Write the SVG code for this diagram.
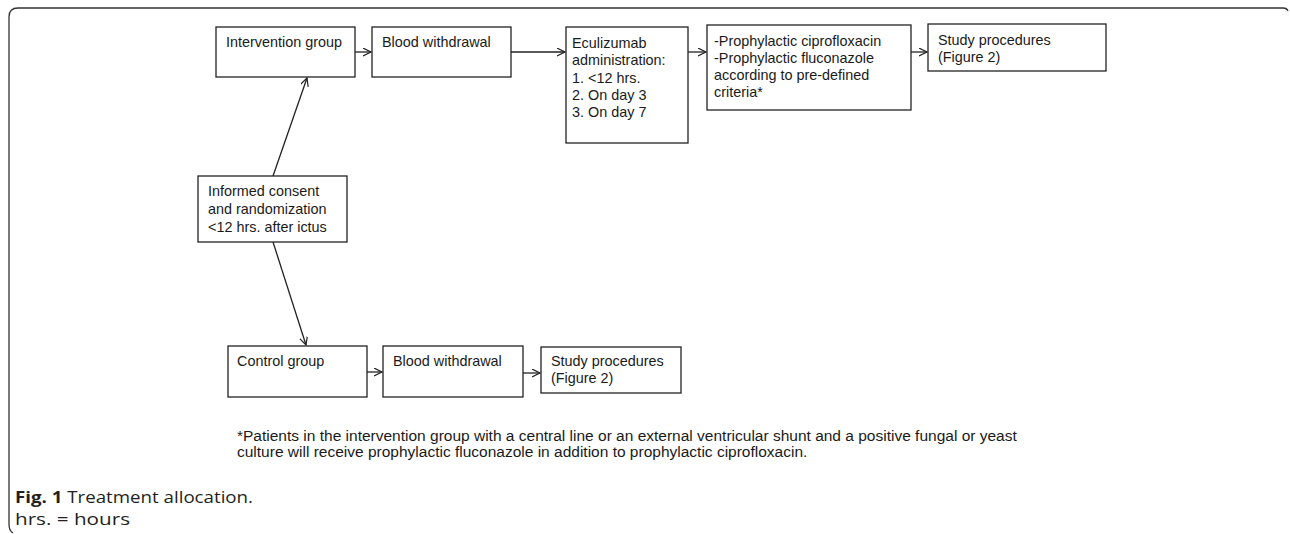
<svg xmlns="http://www.w3.org/2000/svg" width="1290" height="534" viewBox="0 0 1290 534">
<defs>
<marker id="arr" markerWidth="10" markerHeight="10" refX="8" refY="4" orient="auto" markerUnits="userSpaceOnUse">
<path d="M0,0 L8,4 L0,8" fill="none" stroke="#222" stroke-width="1.2"/>
</marker>
<style>
.box{fill:#fff;stroke:#222;stroke-width:1.3}
.t{font-family:"Liberation Sans",Arial,sans-serif;font-size:14.4px;fill:#1a1a1a}
.fn{font-family:"Liberation Sans",Arial,sans-serif;font-size:15.5px;fill:#1a1a1a}
.cap{font-family:"Open Sans","Noto Sans",sans-serif;font-size:16px;fill:#231f20}
.c{stroke:#222;stroke-width:1.3;fill:none;marker-end:url(#arr)}
</style>
</defs>
<rect width="1290" height="534" fill="#fff"/>
<path d="M1288,11 Q1287,8 1283,8 L18,8 Q9,8 9,17 L9,524 Q9,531 13,533" fill="none" stroke="#333" stroke-width="1.3"/>
<g id="connectors">
<line class="c" x1="355" y1="52" x2="371" y2="52"/>
<line class="c" x1="511" y1="52" x2="565" y2="52"/>
<line class="c" x1="688" y1="52" x2="706" y2="52"/>
<line class="c" x1="911" y1="52" x2="927" y2="52"/>
<line class="c" x1="273" y1="176" x2="307" y2="78"/>
<line class="c" x1="273" y1="242" x2="306" y2="345"/>
<line class="c" x1="367" y1="372" x2="382" y2="372"/>
<line class="c" x1="523" y1="373" x2="540" y2="373"/>
</g>
<g id="intervention">
<rect class="box" x="216" y="27" width="139" height="50"/>
<text class="t" x="226" y="47">Intervention group</text>
</g>
<g id="blood1">
<rect class="box" x="372" y="27" width="139" height="50"/>
<text class="t" x="382" y="47">Blood withdrawal</text>
</g>
<g id="eculizumab">
<rect class="box" x="566" y="27" width="122" height="116"/>
<text class="t" x="572" y="48">Eculizumab</text>
<text class="t" x="572" y="65.3">administration:</text>
<text class="t" x="572" y="82.6">1. &lt;12 hrs.</text>
<text class="t" x="572" y="99.9">2. On day 3</text>
<text class="t" x="572" y="117.2">3. On day 7</text>
</g>
<g id="prophylactic">
<rect class="box" x="707" y="25" width="204" height="85"/>
<text class="t" x="714" y="46">-Prophylactic ciprofloxacin</text>
<text class="t" x="714" y="63">-Prophylactic fluconazole</text>
<text class="t" x="714" y="80">according to pre-defined</text>
<text class="t" x="714" y="97">criteria*</text>
</g>
<g id="study1">
<rect class="box" x="928" y="24" width="178" height="47"/>
<text class="t" x="938" y="45">Study procedures</text>
<text class="t" x="938" y="62">(Figure 2)</text>
</g>
<g id="consent">
<rect class="box" x="198" y="176" width="149" height="66"/>
<text class="t" x="208" y="196">Informed consent</text>
<text class="t" x="208" y="214">and randomization</text>
<text class="t" x="208" y="232">&lt;12 hrs. after ictus</text>
</g>
<g id="control">
<rect class="box" x="228" y="346" width="139" height="51"/>
<text class="t" x="237" y="366">Control group</text>
</g>
<g id="blood2">
<rect class="box" x="383" y="346" width="140" height="51"/>
<text class="t" x="393" y="366">Blood withdrawal</text>
</g>
<g id="study2">
<rect class="box" x="541" y="347" width="140" height="46"/>
<text class="t" x="551" y="366">Study procedures</text>
<text class="t" x="551" y="383">(Figure 2)</text>
</g>
<g id="footnote">
<text class="fn" x="237" y="441">*Patients in the intervention group with a central line or an external ventricular shunt and a positive fungal or yeast</text>
<text class="fn" x="237" y="457">culture will receive prophylactic fluconazole in addition to prophylactic ciprofloxacin.</text>
</g>
<g id="caption">
<text class="cap" x="15" y="503" textLength="238" lengthAdjust="spacingAndGlyphs"><tspan font-weight="bold">Fig. 1</tspan> Treatment allocation.</text>
<text class="cap" x="15" y="525" textLength="115" lengthAdjust="spacingAndGlyphs">hrs. = hours</text>
</g>
</svg>
